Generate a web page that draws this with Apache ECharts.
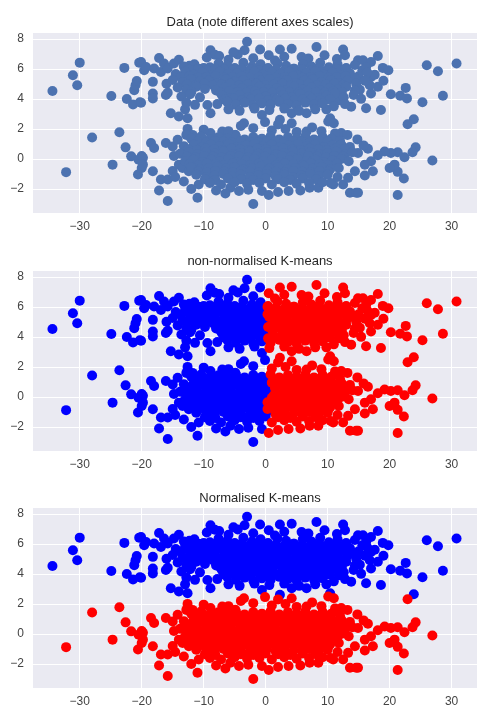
<!DOCTYPE html>
<html>
<head>
<meta charset="utf-8">
<script src="https://cdn.jsdelivr.net/npm/echarts@6/dist/echarts.min.js"></script>
<style>
  html, body { margin: 0; padding: 0; background: #fff; }
  #chart { width: 477px; height: 708px; }
</style>
</head>
<body>
<div id="chart"></div>
<script>
// panel titles
const titles = ['Data (note different axes scales)', 'non-normalised K-means', 'Normalised K-means']

// upper blob (y around 5)
const upperBlob = [
  // outliers / sparse edge
  [-34.4,4.52],[-31.1,5.57],[-30.4,4.91],[-30.0,6.41],[-24.9,4.19],[-22.8,6.06],[-22.4,3.99],[-21.4,3.63],
  [-21.2,4.58],[-21.0,4.91],[-20.8,5.18],[-20.4,6.41],[-20.3,3.77],[-20.1,6.45],[-20.1,3.74],[-19.6,5.9],
  [-19.3,6.12],[-18.2,5.13],[-18.2,4.36],[-18.2,4.03],[-18.0,6.02],[-17.2,6.72],[-16.9,5.79],[-16.4,6.35],
  [-16.1,4.25],[-15.8,6.02],[-15.3,3.04],[-14.8,6.35],[-14.0,2.82],[-12.6,2.71],[-12.3,6.2],[-10.5,5.98],
  [-10.0,6.05],[-9.4,3.59],[-8.9,3.04],[-8.9,7.23],[-8.2,6.94],[-3.4,7.23],[-3.0,7.8],
  [-0.9,7.29],[2.3,7.29],[4.2,7.34],[8.2,7.45],[12.5,7.29],[5.8,6.78],[6.9,6.68],[14.9,6.57],[13.8,3.48],
  [10.4,2.71],[6.6,3.04],[4.2,3.04],[2.3,2.6],[-0.6,2.93],[18.1,6.85],[18.9,6.06],[19.8,5.9],[26.0,6.24],
  [27.8,5.84],[30.8,6.35],[22.6,4.73],[21.7,4.2],[22.8,4.03],[20.2,4.3],[25.3,3.77],[28.6,4.2],[23.9,2.64],
  [18.6,3.26],[16.2,3.37],[17.0,4.36],[18.1,4.8],[17.0,5.46],[15.7,6.57],[17.0,6.45],
  [15.6,5.9],[17.6,5.6],[16.8,4.9],[15.2,4.6],[19.0,5.2],[-14.0,6.6],[-16.0,5.0],[-15.8,4.4],[-13.0,3.3],
  [9.8,3.3],[11.8,3.9],
  // core
  [-7.5,6.85],[-6.0,6.6],[-4.5,6.95],[-2.0,6.7],[0.5,6.9],[1.5,6.55],[3.0,6.8],[6.5,6.6],[9.5,6.9],
  [11.5,6.65],[12.8,6.9],[-9.5,6.75],[-5.2,7.1],
  [-13.2,6.15],[-11.5,6.3],[-9.0,6.1],[-7.6,6.35],[-6.2,6.2],[-5.0,6.05],[-3.6,6.4],[-2.2,6.15],[-0.8,6.3],
  [0.4,6.05],[1.9,6.35],[3.3,6.2],[4.6,6.0],[6.0,6.3],[7.4,6.15],[8.8,6.4],[10.2,6.1],[11.6,6.3],[13.0,6.05],
  [14.4,6.25],[16.2,6.1],
  [-12.3,5.95],[-10.9,6.0],[-9.5,5.9],[-8.1,6.0],[-6.7,5.95],[-5.3,5.9],[-3.9,6.0],[-2.5,5.95],[-1.1,5.9],
  [0.3,6.0],[1.7,5.95],[3.1,5.9],[4.5,6.0],[5.9,5.95],[7.3,5.9],[8.7,6.0],[10.1,5.9],[11.5,5.95],[12.9,6.0],
  [-14.5,5.65],[-13.0,5.8],[-11.6,5.6],[-10.2,5.75],[-8.8,5.55],[-7.4,5.8],[-6.0,5.65],[-4.6,5.7],[-3.2,5.55],
  [-1.8,5.8],[-0.4,5.6],[1.0,5.75],[2.4,5.65],[3.8,5.8],[5.2,5.55],[6.6,5.7],[8.0,5.85],[9.4,5.6],[10.8,5.75],
  [12.2,5.55],[13.6,5.7],[15.0,5.5],[16.4,5.75],
  [-13.7,5.45],[-12.3,5.5],[-10.9,5.4],[-9.5,5.45],[-8.1,5.5],[-6.7,5.4],[-5.3,5.45],[-3.9,5.5],[-2.5,5.4],
  [-1.1,5.45],[0.3,5.5],[1.7,5.4],[3.1,5.45],[4.5,5.5],[5.9,5.4],[7.3,5.45],[8.7,5.5],[10.1,5.4],[11.5,5.45],
  [12.9,5.5],[14.3,5.4],
  [-15.0,5.25],[-13.4,5.1],[-12.0,5.3],[-10.6,5.15],[-9.2,5.2],[-7.8,5.05],[-6.4,5.3],[-5.0,5.15],[-3.6,5.25],
  [-2.2,5.05],[-0.8,5.2],[0.6,5.3],[2.0,5.1],[3.4,5.25],[4.8,5.05],[6.2,5.2],[7.6,5.3],[9.0,5.1],[10.4,5.25],
  [11.8,5.05],[13.2,5.2],[14.6,5.0],[16.0,5.2],
  [-12.7,4.95],[-11.3,4.9],[-9.9,5.0],[-8.5,4.9],[-7.1,4.95],[-5.7,5.0],[-4.3,4.9],[-2.9,4.95],[-1.5,5.0],
  [-0.1,4.9],[1.3,4.95],[2.7,5.0],[4.1,4.9],[5.5,4.95],[6.9,5.0],[8.3,4.9],[9.7,4.95],[11.1,5.0],[12.5,4.9],
  [-14.2,4.75],[-12.8,4.6],[-11.2,4.8],[-9.8,4.65],[-8.0,4.55],[-6.6,4.75],[-5.2,4.6],[-3.8,4.7],[-2.4,4.55],
  [-1.0,4.8],[0.4,4.65],[1.8,4.7],[3.2,4.55],[4.6,4.8],[6.0,4.6],[7.4,4.75],[8.8,4.55],[10.2,4.7],[11.6,4.6],
  [13.0,4.8],[14.4,4.55],
  [-12.0,4.45],[-7.3,4.4],[-5.9,4.5],[-4.5,4.45],[-3.1,4.4],[-1.7,4.5],[-0.3,4.45],[1.1,4.4],[2.5,4.5],
  [3.9,4.45],[5.3,4.4],[6.7,4.5],[8.1,4.45],[9.5,4.4],[10.9,4.5],[12.3,4.45],
  [-13.6,4.15],[-12.2,4.3],[-10.6,4.1],[-7.0,4.2],[-5.6,4.05],[-4.2,4.25],[-2.8,4.1],[-1.4,4.3],[0.0,4.15],
  [1.4,4.05],[2.8,4.25],[4.2,4.1],[5.6,4.3],[7.0,4.15],[8.4,4.05],[9.8,4.2],[11.2,4.35],[12.6,4.1],[14.2,4.25],
  [15.4,4.0],
  [-6.6,3.95],[-5.2,4.0],[-3.8,3.9],[-2.4,3.95],[-1.0,4.0],[0.4,3.9],[1.8,3.95],[3.2,4.0],[4.6,3.9],
  [6.0,3.95],[7.4,4.0],[8.8,3.9],[10.4,3.95],
  [-12.8,3.75],[-11.4,3.6],[-7.8,3.65],[-6.2,3.8],[-4.8,3.6],[-3.4,3.75],[-2.0,3.55],[-0.6,3.7],[0.8,3.6],
  [2.2,3.8],[3.6,3.65],[5.0,3.55],[6.4,3.75],[7.8,3.6],[9.2,3.7],[11.0,3.5],[12.8,3.65],
  [-6.0,3.3],[-4.2,3.2],[-1.8,3.35],[0.6,3.25],[3.0,3.35],[5.4,3.2],[8.0,3.3]
]

// lower blob (y around 0)
const lowerBlob = [
  [-32.2,-0.88],[-28.0,1.43],[-24.7,-0.38],[-23.6,1.78],[-22.6,0.77],[-21.7,0.17],[-20.6,-1.04],[-20.5,-0.05],
  [-20.0,0.2],[-20.0,-0.6],[-19.8,0.07],[-19.8,-0.38],[-18.5,1.06],[-18.0,0.73],[-18.2,-0.82],[-17.2,-2.1],
  [-16.9,-1.37],[-16.1,1.06],[-15.8,-1.37],[-15.8,-2.8],[-15.0,0.83],[-15.0,-0.8],[-14.2,1.28],[-14.0,-0.38],
  [-13.4,-0.6],[-12.6,2.0],[-12.4,-0.82],[-11.8,1.6],[-11.0,-2.58],[-10.8,-1.7],[-8.9,1.72],[-7.0,1.83],
  [-4.9,1.61],[-3.5,2.38],[-5.7,-1.92],[-4.3,-2.14],[-2.0,-3.0],
  [-0.1,2.45],[4.2,2.38],[10.1,2.49],[11.0,2.38],[12.2,1.72],[6.6,1.83],[-0.6,-2.14],[3.7,-2.14],[7.1,-1.92],
  [8.5,-1.92],[10.9,-1.7],[12.5,-1.7],[13.6,-2.25],[14.6,-2.25],[14.9,0.4],[14.4,-0.82],[13.3,-1.26],
  [22.9,2.31],[26.9,-0.11],[21.3,-2.4],[22.3,-1.3],[21.3,-0.86],[24.2,0.77],[23.7,0.44],[22.4,0.11],[21.3,0.44],
  [20.2,0.4],[19.2,0.5],[18.1,0.24],[16.5,0.68],[20.8,-0.38],[20.0,-0.6],[17.3,-0.82],[17.0,-0.16],[16.0,-0.38],
  [14.9,-2.25],
  [-14.8,0.2],[-14.6,-1.2],[-13.2,-1.5],[-12.8,1.6],[14.8,1.3],[15.8,0.9],[16.0,-1.1],[13.2,1.6],[11.2,1.7],
  [-12.0,-2.0],[10.5,-1.6],
  // core
  [-10.0,1.95],[-6.0,1.85],[-2.0,2.05],[1.0,1.9],[3.2,2.0],[5.0,1.8],[7.5,2.1],[9.0,1.85],[-4.0,2.2],[2.0,2.3],
  [-12.0,1.35],[-10.4,1.5],[-9.0,1.3],[-7.6,1.45],[-6.2,1.35],[-4.8,1.5],[-3.4,1.3],[-2.0,1.45],[-0.6,1.35],
  [0.8,1.5],[2.2,1.3],[3.6,1.45],[5.0,1.35],[6.4,1.5],[7.8,1.3],[9.2,1.45],[10.6,1.35],[12.0,1.2],
  [-11.0,1.15],[-9.6,1.1],[-8.2,1.2],[-6.8,1.15],[-5.4,1.1],[-4.0,1.2],[-2.6,1.15],[-1.2,1.1],[0.2,1.2],
  [1.6,1.15],[3.0,1.1],[4.4,1.2],[5.8,1.15],[7.2,1.1],[8.6,1.2],[10.0,1.15],
  [-13.2,0.85],[-11.6,0.95],[-10.2,0.8],[-8.8,0.95],[-7.4,0.85],[-6.0,1.0],[-4.6,0.8],[-3.2,0.9],[-1.8,1.0],
  [-0.4,0.85],[1.0,0.95],[2.4,0.8],[3.8,0.9],[5.2,1.0],[6.6,0.85],[8.0,0.95],[9.4,0.8],[10.8,0.9],[12.2,0.95],
  [13.6,0.8],
  [-12.5,0.65],[-11.1,0.6],[-9.7,0.7],[-8.3,0.65],[-6.9,0.6],[-5.5,0.7],[-4.1,0.65],[-2.7,0.6],[-1.3,0.7],
  [0.1,0.65],[1.5,0.6],[2.9,0.7],[4.3,0.65],[5.7,0.6],[7.1,0.7],[8.5,0.65],[9.9,0.6],[11.3,0.7],[12.7,0.65],
  [-13.8,0.35],[-12.4,0.45],[-11.0,0.3],[-9.6,0.45],[-8.2,0.35],[-6.8,0.5],[-5.4,0.3],[-4.0,0.4],[-2.6,0.5],
  [-1.2,0.35],[0.2,0.45],[1.6,0.3],[3.0,0.4],[4.4,0.5],[5.8,0.35],[7.2,0.45],[8.6,0.3],[10.0,0.4],[11.4,0.5],
  [12.8,0.3],[14.0,0.45],
  [-12.7,0.15],[-11.3,0.1],[-9.9,0.2],[-8.5,0.15],[-7.1,0.1],[-5.7,0.2],[-4.3,0.15],[-2.9,0.1],[-1.5,0.2],
  [-0.1,0.15],[1.3,0.1],[2.7,0.2],[4.1,0.15],[5.5,0.1],[6.9,0.2],[8.3,0.15],[9.7,0.1],[11.1,0.2],[12.5,0.15],
  [-13.0,-0.15],[-11.6,-0.05],[-10.2,-0.2],[-8.8,-0.05],[-7.4,-0.15],[-6.0,0.0],[-4.6,-0.2],[-3.2,-0.1],
  [-1.8,0.0],[-0.4,-0.15],[1.0,-0.05],[2.4,-0.2],[3.8,-0.1],[5.2,0.0],[6.6,-0.15],[8.0,-0.05],[9.4,-0.2],
  [10.8,-0.1],[12.2,0.0],[13.4,-0.15],
  [-12.3,-0.35],[-10.9,-0.4],[-9.5,-0.3],[-8.1,-0.35],[-6.7,-0.4],[-5.3,-0.3],[-3.9,-0.35],[-2.5,-0.4],
  [-1.1,-0.3],[0.3,-0.35],[1.7,-0.4],[3.1,-0.3],[4.5,-0.35],[5.9,-0.4],[7.3,-0.3],[8.7,-0.35],[10.1,-0.4],
  [11.5,-0.3],
  [-12.0,-0.55],[-10.6,-0.7],[-9.2,-0.6],[-7.8,-0.5],[-6.4,-0.65],[-5.0,-0.55],[-3.6,-0.7],[-2.2,-0.6],
  [-0.8,-0.5],[0.6,-0.65],[2.0,-0.55],[3.4,-0.7],[4.8,-0.6],[6.2,-0.5],[7.6,-0.65],[9.0,-0.55],[10.4,-0.7],
  [11.8,-0.6],
  [-10.9,-0.85],[-9.5,-0.9],[-8.1,-0.8],[-6.7,-0.85],[-5.3,-0.9],[-3.9,-0.8],[-2.5,-0.85],[-1.1,-0.9],
  [0.3,-0.8],[1.7,-0.85],[3.1,-0.9],[4.5,-0.8],[5.9,-0.85],[7.3,-0.9],[8.7,-0.8],[10.1,-0.85],
  [-11.2,-1.05],[-9.6,-1.2],[-8.2,-1.1],[-6.8,-1.0],[-5.4,-1.15],[-4.0,-1.05],[-2.6,-1.2],[-1.2,-1.1],
  [0.2,-1.0],[1.6,-1.15],[3.0,-1.05],[4.4,-1.2],[5.8,-1.1],[7.2,-1.0],[8.6,-1.15],[10.0,-1.05],[11.6,-1.2],
  [-9.8,-1.35],[-8.1,-1.4],[-6.1,-1.3],[-4.0,-1.35],[-2.0,-1.4],[0.0,-1.3],[2.0,-1.35],[4.0,-1.4],[6.0,-1.3],
  [8.1,-1.35],
  [-9.0,-1.6],[-7.2,-1.7],[-5.0,-1.55],[-3.0,-1.65],[-1.0,-1.6],[1.0,-1.7],[3.0,-1.55],[5.0,-1.65],[7.0,-1.6],
  [9.2,-1.55],
  [-8.0,-2.1],[-2.8,-2.05],[2.0,-2.2],[5.6,-2.1],[-6.5,-2.3],[0.5,-2.4]
]

// k-means on raw data splits on x only
const kmeansSplitX = 0.25

const xRange = [-37.7, 34.1]
const yRange = [-3.6, 8.45]

const panels = [
  { top: 32, height: 181, titleTop: 11 },
  { top: 270, height: 181, titleTop: 250 },
  { top: 507, height: 181, titleTop: 487 }
]

function fmtTick(v) {
  if (!Number.isInteger(v)) return ''
  return String(v).replace('-', '\u2212')
}

const allPoints = upperBlob.concat(lowerBlob)
const font = 'Liberation Sans, Arial, sans-serif'

let option = {
  animation: false,
  backgroundColor: '#fff',
  title: [],
  grid: [],
  xAxis: [],
  yAxis: [],
  series: []
}

panels.forEach((p, i) => {
  option.title.push({
    text: titles[i],
    left: 255,
    top: p.titleTop,
    textAlign: 'center',
    textStyle: { fontSize: 13, fontWeight: 'normal', color: '#262626', fontFamily: font }
  })
  option.grid.push({
    left: 32, top: p.top, width: 448, height: p.height,
    show: true, backgroundColor: '#EAEAF2', borderWidth: 0
  })
  option.xAxis.push({
    type: 'value', gridIndex: i, min: xRange[0], max: xRange[1],
    axisLine: { show: false }, axisTick: { show: false },
    axisLabel: { color: '#444', fontSize: 12, fontFamily: font, margin: 8, formatter: fmtTick,
      showMinLabel: false, showMaxLabel: false },
    splitLine: { lineStyle: { color: '#fff', width: 1 } }
  })
  option.yAxis.push({
    type: 'value', gridIndex: i, min: yRange[0], max: yRange[1],
    axisLine: { show: false }, axisTick: { show: false },
    axisLabel: { color: '#444', fontSize: 12, fontFamily: font, margin: 8, formatter: fmtTick,
      showMinLabel: false, showMaxLabel: false },
    splitLine: { lineStyle: { color: '#fff', width: 1 } }
  })
})

function scatter(i, data, color) {
  return {
    type: 'scatter', xAxisIndex: i, yAxisIndex: i, data: data,
    symbolSize: 10, itemStyle: { color: color, opacity: 1 }
  }
}

option.series.push(scatter(0, allPoints, '#4C72B0'))
option.series.push(scatter(1, allPoints.filter(d => d[0] < kmeansSplitX), '#0000FF'))
option.series.push(scatter(1, allPoints.filter(d => d[0] >= kmeansSplitX), '#FF0000'))
option.series.push(scatter(2, upperBlob, '#0000FF'))
option.series.push(scatter(2, lowerBlob, '#FF0000'))

let myChart = echarts.init(document.getElementById('chart'), null, { renderer: 'canvas' })
myChart.setOption(option)
</script>
</body>
</html>
